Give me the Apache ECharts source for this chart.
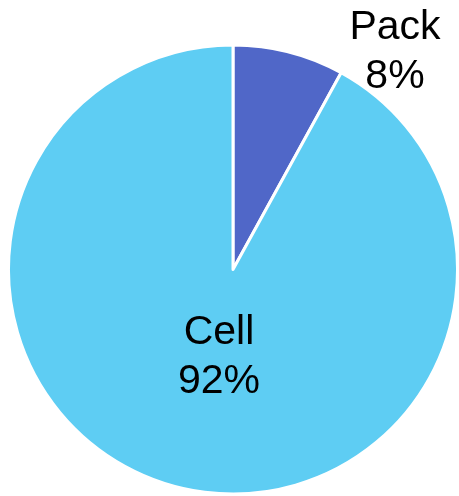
<!DOCTYPE html>
<html>
<head>
<meta charset="utf-8">
<script src="https://cdn.jsdelivr.net/npm/echarts@6/dist/echarts.min.js"></script>
<style>
html,body{margin:0;padding:0;background:#fff;}
#main{width:459px;height:496px;}
</style>
</head>
<body>
<div id="main"></div>
<script>
var names = ['Pack', 'Cell'];
var values = [8, 92];
var colors = ['#5067C8', '#5ECDF3'];

var chart = echarts.init(document.getElementById('main'));
var pieData = [];
for (var i = 0; i < names.length; i++) {
	pieData.push({
		name: names[i],
		value: values[i],
		itemStyle: {color: colors[i]}
	});
}
var option = {
	animation: false,
	series: [{
		type: 'pie',
		center: [233, 269.5],
		radius: 224.5,
		startAngle: 90,
		clockwise: true,
		itemStyle: {borderColor: '#fff', borderWidth: 3},
		label: {
			show: true,
			position: 'inside',
			formatter: function(p){ return p.name + '\n' + p.value + '%'; },
			fontFamily: 'Liberation Sans, Arial, sans-serif',
			fontSize: 41,
			lineHeight: 49,
			color: '#000'
		},
		labelLine: {show: false},
		labelLayout: function(p){
			if (p.dataIndex === 0) {
				return {x: 395, y: 52, align: 'center', verticalAlign: 'middle'};
			}
			return {x: 219, y: 357, align: 'center', verticalAlign: 'middle'};
		},
		data: pieData
	}]
};
chart.setOption(option);
</script>
</body>
</html>
